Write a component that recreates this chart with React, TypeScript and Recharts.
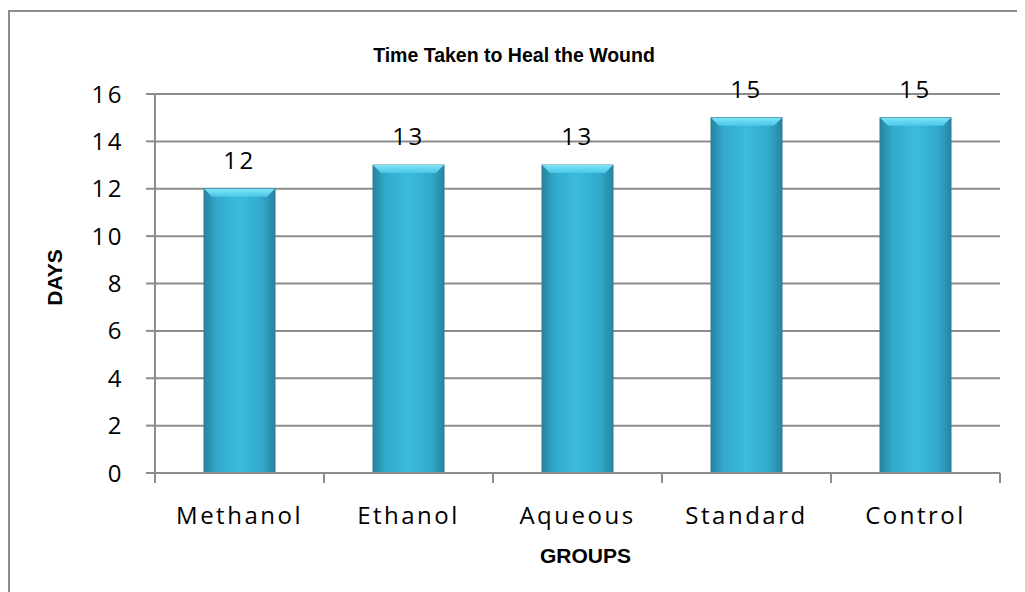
import { BarChart, Bar, XAxis, YAxis, CartesianGrid, LabelList } from "recharts";

const groups = ["Methanol", "Ethanol", "Aqueous", "Standard", "Control"];
const days = [12, 13, 13, 15, 15];
const dayTicks = [0, 2, 4, 6, 8, 10, 12, 14, 16];

const data = groups.map((name, i) => ({ name, days: days[i] }));

const GRID = "#8c8c8c";
const TICK_FONT = {
  fontFamily: "'Open Sans', sans-serif",
  fontSize: 24,
  fill: "#000",
  letterSpacing: 2.5,
};
const BOLD_FONT = "'Liberation Sans', Arial, sans-serif";

function BevelBar(props: any) {
  const { x, y, width, height } = props;
  if (!height || height <= 0) return null;
  const b = 8;
  return (
    <g>
      <rect x={x} y={y} width={width} height={height} fill="url(#barFill)" stroke="#2a7f96" strokeWidth={1} />
      <polygon
        points={`${x},${y} ${x + width},${y} ${x + width - b},${y + b} ${x + b},${y + b}`}
        fill="url(#capFill)"
      />
    </g>
  );
}

function GroupTick(props: any) {
  const { x, y, payload, index } = props;
  const off = payload.offset || 0;
  return (
    <g>
      <line x1={x - off} y1={y - 8} x2={x - off} y2={y + 2} stroke={GRID} strokeWidth={2} />
      {index === groups.length - 1 && (
        <line x1={x + off} y1={y - 8} x2={x + off} y2={y + 2} stroke={GRID} strokeWidth={2} />
      )}
      <text x={x} y={y + 43} textAnchor="middle" {...TICK_FONT}>
        {payload.value}
      </text>
    </g>
  );
}

export default function App() {
  return (
    <div style={{ position: "relative", width: 1017, height: 584 }}>
      <div style={{ position: "absolute", left: 0, top: 2, width: 2, height: 582, background: GRID }} />
      <div style={{ position: "absolute", left: 0, top: 2, width: 1017, height: 2, background: GRID }} />
      <BarChart
        width={1017}
        height={584}
        data={data}
        margin={{ top: 86, right: 25, bottom: 0, left: 0 }}
        barCategoryGap="29%"
        style={{ position: "absolute", left: 0, top: 0 }}
      >
        <defs>
          <linearGradient id="barFill" x1="0" y1="0" x2="1" y2="0">
            <stop offset="0%" stopColor="#2784a0" />
            <stop offset="18%" stopColor="#32a9cb" />
            <stop offset="50%" stopColor="#3bbcdf" />
            <stop offset="82%" stopColor="#32a9cb" />
            <stop offset="100%" stopColor="#2784a0" />
          </linearGradient>
          <linearGradient id="capFill" x1="0" y1="0" x2="0" y2="1">
            <stop offset="0%" stopColor="#7fe3f5" />
            <stop offset="100%" stopColor="#48c8e8" />
          </linearGradient>
        </defs>
        <text x={506} y={54} textAnchor="middle" fontFamily={BOLD_FONT} fontWeight="bold" fontSize={19.5}>
          Time Taken to Heal the Wound
        </text>
        <CartesianGrid vertical={false} stroke={GRID} strokeWidth={2} />
        <XAxis
          dataKey="name"
          height={119}
          stroke={GRID}
          strokeWidth={2}
          tickLine={false}
          tick={<GroupTick />}
          interval={0}
          label={{
            content: (p: any) => {
              const vb = p.viewBox;
              return (
                <text
                  x={vb.x + vb.width / 2 + 8}
                  y={vb.y + 90}
                  textAnchor="middle"
                  fontFamily={BOLD_FONT}
                  fontWeight="bold"
                  fontSize={21}
                >
                  GROUPS
                </text>
              );
            },
          }}
        />
        <YAxis
          width={147}
          domain={[0, 16]}
          ticks={dayTicks}
          interval={0}
          stroke={GRID}
          strokeWidth={2}
          tickSize={9}
          tickMargin={22}
          tick={TICK_FONT}
          label={{
            content: (p: any) => {
              const vb = p.viewBox;
              const cx = 46;
              const cy = vb.y + vb.height / 2 - 6;
              return (
                <text
                  x={cx}
                  y={cy}
                  transform={`rotate(-90 ${cx} ${cy})`}
                  textAnchor="middle"
                  dominantBaseline="central"
                  fontFamily={BOLD_FONT}
                  fontWeight="bold"
                  fontSize={21}
                >
                  DAYS
                </text>
              );
            },
          }}
        />
        <Bar dataKey="days" shape={<BevelBar />} isAnimationActive={false}>
          <LabelList dataKey="days" position="top" offset={20} style={TICK_FONT} />
        </Bar>
      </BarChart>
    </div>
  );
}
